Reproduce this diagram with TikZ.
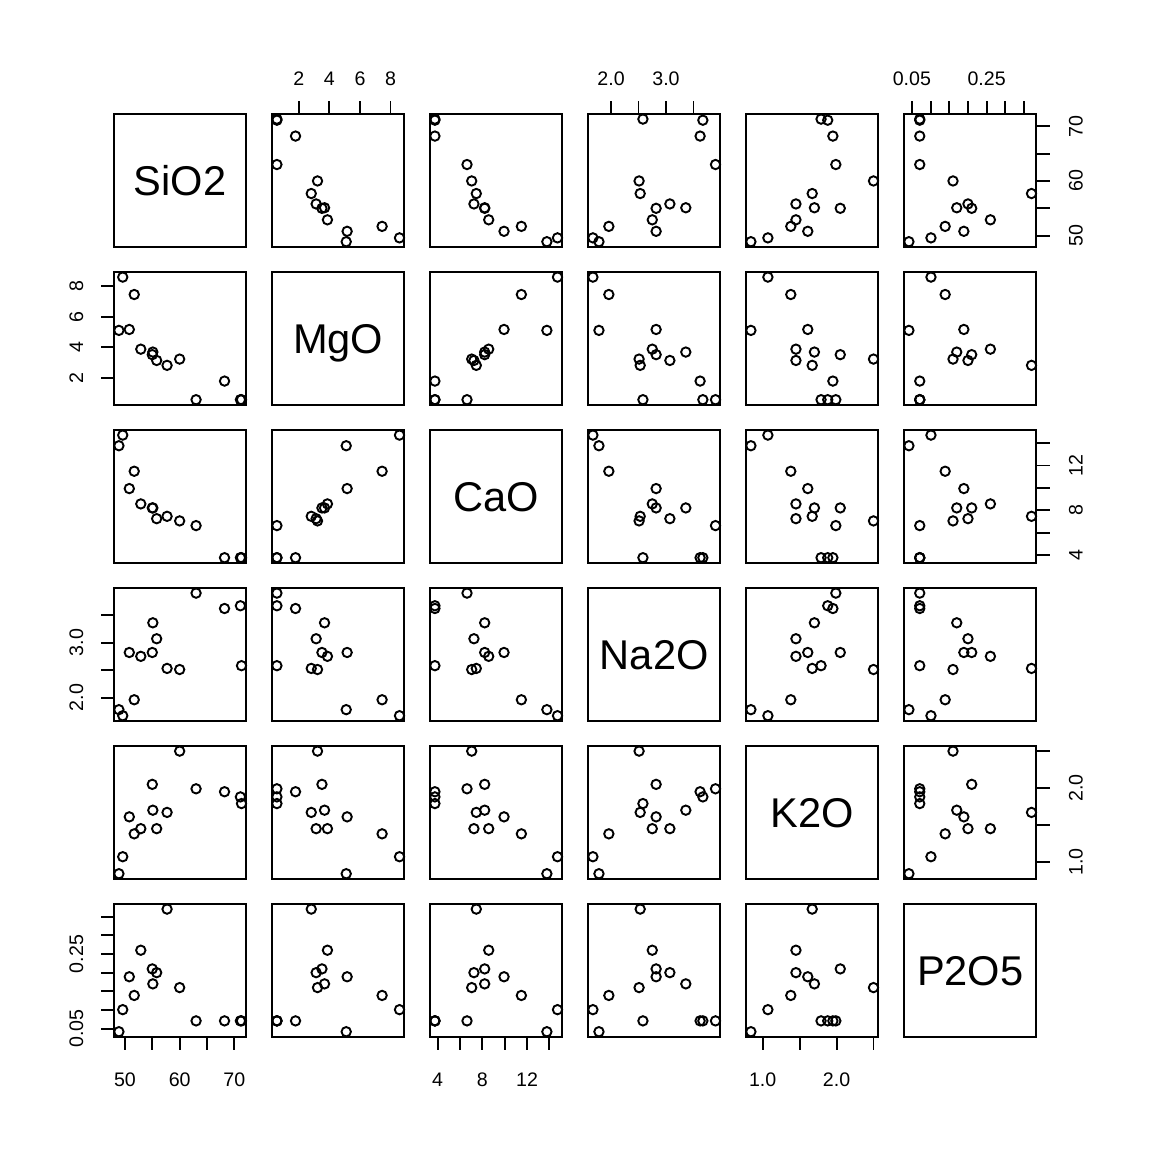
\documentclass[tikz,border=0pt]{standalone}
\usepackage{fontspec}
\setmainfont{Liberation Sans}
\def\oxdata{{49.6,8.59,14.72,1.67,1.07,0.101},{51.7,7.45,11.49,1.96,1.38,0.139},%
{48.9,5.10,13.77,1.78,0.84,0.042},{50.8,5.16,9.94,2.82,1.61,0.189},%
{52.9,3.87,8.57,2.75,1.45,0.260},{55.1,3.68,8.21,3.36,1.70,0.170},%
{55.0,3.51,8.21,2.82,2.05,0.210},{55.8,3.13,7.25,3.07,1.45,0.200},%
{57.7,2.81,7.46,2.53,1.67,0.370},{60.0,3.22,7.05,2.51,2.50,0.160},%
{68.2,1.78,3.76,3.62,1.95,0.071},{63.0,0.56,6.63,3.90,1.99,0.071},%
{71.1,0.56,3.76,3.67,1.88,0.071},{71.3,0.56,3.76,2.58,1.79,0.071}}
\def\axlo{{48.004,0.2388,3.3216,1.5808,0.7736,0.02888}}
\def\axrng{{24.192,8.6724,11.8368,2.4084,1.7928,0.35424}}
\begin{document}
\begin{tikzpicture}[x=0.5pt,y=-0.5pt,
    box_line/.style={line width=0.95pt},
    pt_ring/.style={line width=0.95pt},
    tick_lbl/.style={inner sep=0pt,font=\fontsize{9.8}{12}\selectfont,text height=7pt,text depth=0pt},
    var_lbl/.style={inner sep=0pt,font=\fontsize{20.8}{25}\selectfont,text height=14.9pt,text depth=0pt}]
    \useasboundingbox (0,0) rectangle (1152,1152);
    \foreach \r in {0,...,5}{
        \foreach \c in {0,...,5}{
            \draw[box_line] (114+158*\c,114.2+158*\r) rectangle ++(132.4,132.4);
        }
    }
    \foreach \k/\nm in {0/SiO2,1/MgO,2/CaO,3/Na2O,4/K2O,5/P2O5}{
        \node[var_lbl] (lbl_\nm) at (180.2+158*\k,180.4+158*\k) {\nm};
    }
    \foreach \p in \oxdata{
        \foreach \r in {0,...,5}{
            \foreach \c in {0,...,5}{
                \ifnum\r=\c\else
                    \pgfmathsetmacro\px{114+158*\c+({\p}[\c]-\axlo[\c])/\axrng[\c]*132.4}
                    \pgfmathsetmacro\py{246.6+158*\r-({\p}[\r]-\axlo[\r])/\axrng[\r]*132.4}
                    \draw[pt_ring] (\px,\py) circle[radius=2.35pt];
                \fi
            }
        }
    }
    % top and left axes
    \foreach \v/\tks in {1/{2,4,6,8},3/{2.0,2.5,3.0,3.5},5/{0.05,0.10,0.15,0.20,0.25,0.30,0.35}}{
        \foreach \t in \tks{
            \pgfmathsetmacro\px{114+158*\v+(\t-\axlo[\v])/\axrng[\v]*132.4}
            \pgfmathsetmacro\py{246.6+158*\v-(\t-\axlo[\v])/\axrng[\v]*132.4}
            \draw[box_line] (\px,114.2) -- (\px,100.7);
            \draw[box_line] (114,\py) -- (100.5,\py);
        }
    }
    \foreach \v/\lbs in {1/{2,4,6,8},3/{2.0,3.0},5/{0.05,0.25}}{
        \foreach \t [count=\k] in \lbs{
            \pgfmathsetmacro\px{114+158*\v+(\t-\axlo[\v])/\axrng[\v]*132.4}
            \pgfmathsetmacro\py{246.6+158*\v-(\t-\axlo[\v])/\axrng[\v]*132.4}
            \node[tick_lbl] (top_\v_\k) at (\px,78.3) {\t};
            \node[tick_lbl,rotate=90] (left_\v_\k) at (76.2,\py) {\t};
        }
    }
    % bottom and right axes
    \foreach \v/\tks in {0/{50,55,60,65,70},2/{4,6,8,10,12,14},4/{1.0,1.5,2.0,2.5}}{
        \foreach \t in \tks{
            \pgfmathsetmacro\px{114+158*\v+(\t-\axlo[\v])/\axrng[\v]*132.4}
            \pgfmathsetmacro\py{246.6+158*\v-(\t-\axlo[\v])/\axrng[\v]*132.4}
            \draw[box_line] (\px,1036.6) -- (\px,1050.1);
            \draw[box_line] (1036.4,\py) -- (1049.9,\py);
        }
    }
    \foreach \v/\lbs in {0/{50,60,70},2/{4,8,12},4/{1.0,2.0}}{
        \foreach \t [count=\k] in \lbs{
            \pgfmathsetmacro\px{114+158*\v+(\t-\axlo[\v])/\axrng[\v]*132.4}
            \pgfmathsetmacro\py{246.6+158*\v-(\t-\axlo[\v])/\axrng[\v]*132.4}
            \node[tick_lbl] (bottom_\v_\k) at (\px,1079) {\t};
            \node[tick_lbl,rotate=90] (right_\v_\k) at (1075.5,\py) {\t};
        }
    }
\end{tikzpicture}
\end{document}
